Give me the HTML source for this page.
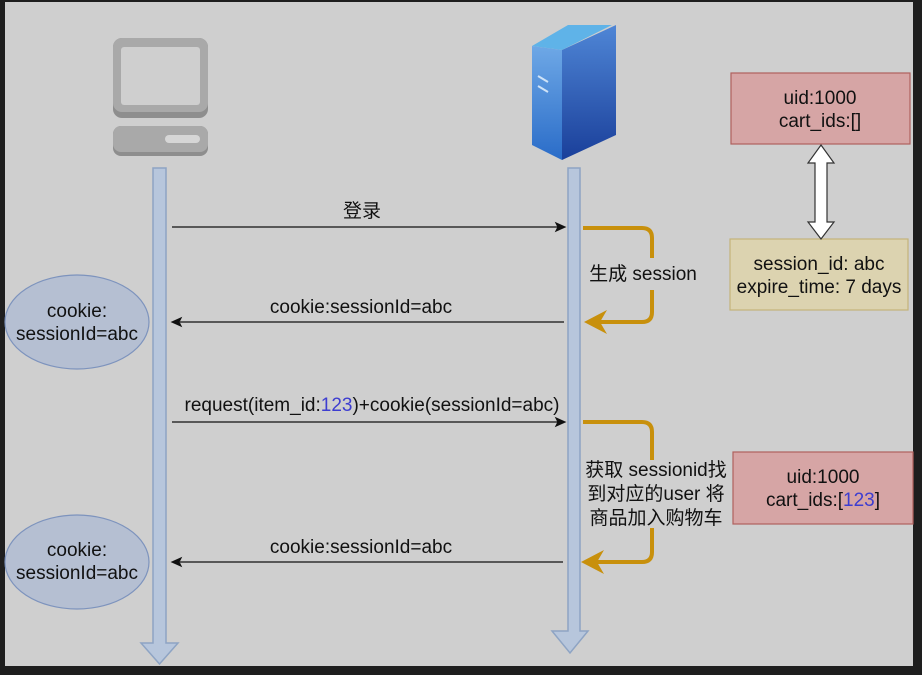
<!DOCTYPE html>
<html><head><meta charset="utf-8"><style>
body{margin:0;background:#1e1e1e;}
svg{display:block}
text{font-family:"Liberation Sans","Noto Sans CJK SC",sans-serif;font-size:19px;fill:#111;}
</style></head><body>
<svg width="922" height="675" viewBox="0 0 922 675" xmlns="http://www.w3.org/2000/svg">
<defs>
<linearGradient id="sf" x1="0" y1="0" x2="0" y2="1"><stop offset="0" stop-color="#4f86d6"/><stop offset="1" stop-color="#1a3f9a"/></linearGradient>
<linearGradient id="sl" x1="0" y1="0" x2="0" y2="1"><stop offset="0" stop-color="#6ea8e6"/><stop offset="1" stop-color="#2a6cc8"/></linearGradient>
</defs>
<rect x="5" y="2" width="908" height="664" fill="#cfcfcf"/>
<rect x="113" y="38" width="95" height="80" rx="9" fill="#8e8e8e"/>
<rect x="113" y="38" width="95" height="74" rx="9" fill="#a9a9a9"/>
<rect x="121" y="47" width="79" height="58" rx="3" fill="#cfcfcf"/>
<rect x="113" y="126" width="95" height="30" rx="8" fill="#8e8e8e"/>
<rect x="113" y="126" width="95" height="26" rx="8" fill="#a9a9a9"/>
<rect x="165" y="135" width="35" height="8" rx="4" fill="#d6d6d6"/>
<polygon points="532,46 568,25 612,25 562,50" fill="#5fb3e8"/>
<polygon points="532,46 562,50 562,160 532,145" fill="url(#sl)"/>
<polygon points="562,50 616,25 616,135 562,160" fill="url(#sf)"/>
<line x1="538" y1="76" x2="548" y2="82" stroke="#cfe3f7" stroke-width="2"/>
<line x1="538" y1="86" x2="548" y2="92" stroke="#cfe3f7" stroke-width="2"/>
<path d="M153,168 H166 V643 H178 L159.5,664 L141,643 H153 Z" fill="#b7c6dc" stroke="#8ea4c4" stroke-width="1.5"/>
<path d="M568,168 H580 V631 H588 L570,653 L552,631 H568 Z" fill="#b7c6dc" stroke="#8ea4c4" stroke-width="1.5"/>
<g stroke="#111" stroke-width="1.2" fill="#111">
<line x1="172" y1="227" x2="558" y2="227"/><polygon points="565,227 556,223 558,227 556,231"/>
<line x1="180" y1="322" x2="564" y2="322"/><polygon points="172,322 181,318 179,322 181,326"/>
<line x1="172" y1="422" x2="558" y2="422"/><polygon points="565,422 556,418 558,422 556,426"/>
<line x1="180" y1="562" x2="563" y2="562"/><polygon points="172,562 181,558 179,562 181,566"/>
</g>
<text x="362" y="217" text-anchor="middle">登录</text>
<text x="361" y="313" text-anchor="middle">cookie:sessionId=abc</text>
<text x="372" y="411" text-anchor="middle">request(item_id:<tspan fill="#3d3dd0">123</tspan>)+cookie(sessionId=abc)</text>
<text x="361" y="553" text-anchor="middle">cookie:sessionId=abc</text>
<g stroke="#c8900c" stroke-width="4" fill="none">
<path d="M583,228 H642 Q652,228 652,238 V258"/>
<path d="M652,290 V312 Q652,322 642,322 H592"/>
<path d="M583,422 H642 Q652,422 652,432 V460"/>
<path d="M652,528 V552 Q652,562 642,562 H592"/>
</g>
<polygon points="584,322 607,310 600,322 607,334" fill="#c8900c"/>
<polygon points="581,562 604,550 597,562 604,574" fill="#c8900c"/>
<text x="643" y="280" text-anchor="middle">生成 session</text>
<text x="656" y="476" text-anchor="middle">获取 sessionid找</text>
<text x="656" y="500" text-anchor="middle">到对应的user 将</text>
<text x="656" y="524" text-anchor="middle">商品加入购物车</text>
<ellipse cx="77" cy="322" rx="72" ry="47" fill="#b5bfd2" stroke="#7d93bd" stroke-width="1.2"/>
<text x="77" y="317" text-anchor="middle">cookie:</text>
<text x="77" y="340" text-anchor="middle">sessionId=abc</text>
<ellipse cx="77" cy="562" rx="72" ry="47" fill="#b5bfd2" stroke="#7d93bd" stroke-width="1.2"/>
<text x="77" y="556" text-anchor="middle">cookie:</text>
<text x="77" y="579" text-anchor="middle">sessionId=abc</text>
<rect x="731" y="73" width="179" height="71" fill="#d6a5a5" stroke="#b0615e" stroke-width="1.2"/>
<text x="820" y="104" text-anchor="middle">uid:1000</text>
<text x="820" y="127" text-anchor="middle">cart_ids:[]</text>
<rect x="730" y="239" width="178" height="71" fill="#dcd3b0" stroke="#c4b47a" stroke-width="1.2"/>
<text x="819" y="270" text-anchor="middle">session_id: abc</text>
<text x="819" y="293" text-anchor="middle">expire_time: 7 days</text>
<rect x="733" y="452" width="180" height="72" fill="#d6a5a5" stroke="#b0615e" stroke-width="1.2"/>
<text x="823" y="483" text-anchor="middle">uid:1000</text>
<text x="823" y="506" text-anchor="middle">cart_ids:[<tspan fill="#3d3dd0">123</tspan>]</text>
<path d="M821,145 L834,163 H827 V222 H834 L821,239 L808,222 H815 V163 H808 Z" fill="#ffffff" stroke="#333" stroke-width="1.2"/>
</svg>
</body></html>
